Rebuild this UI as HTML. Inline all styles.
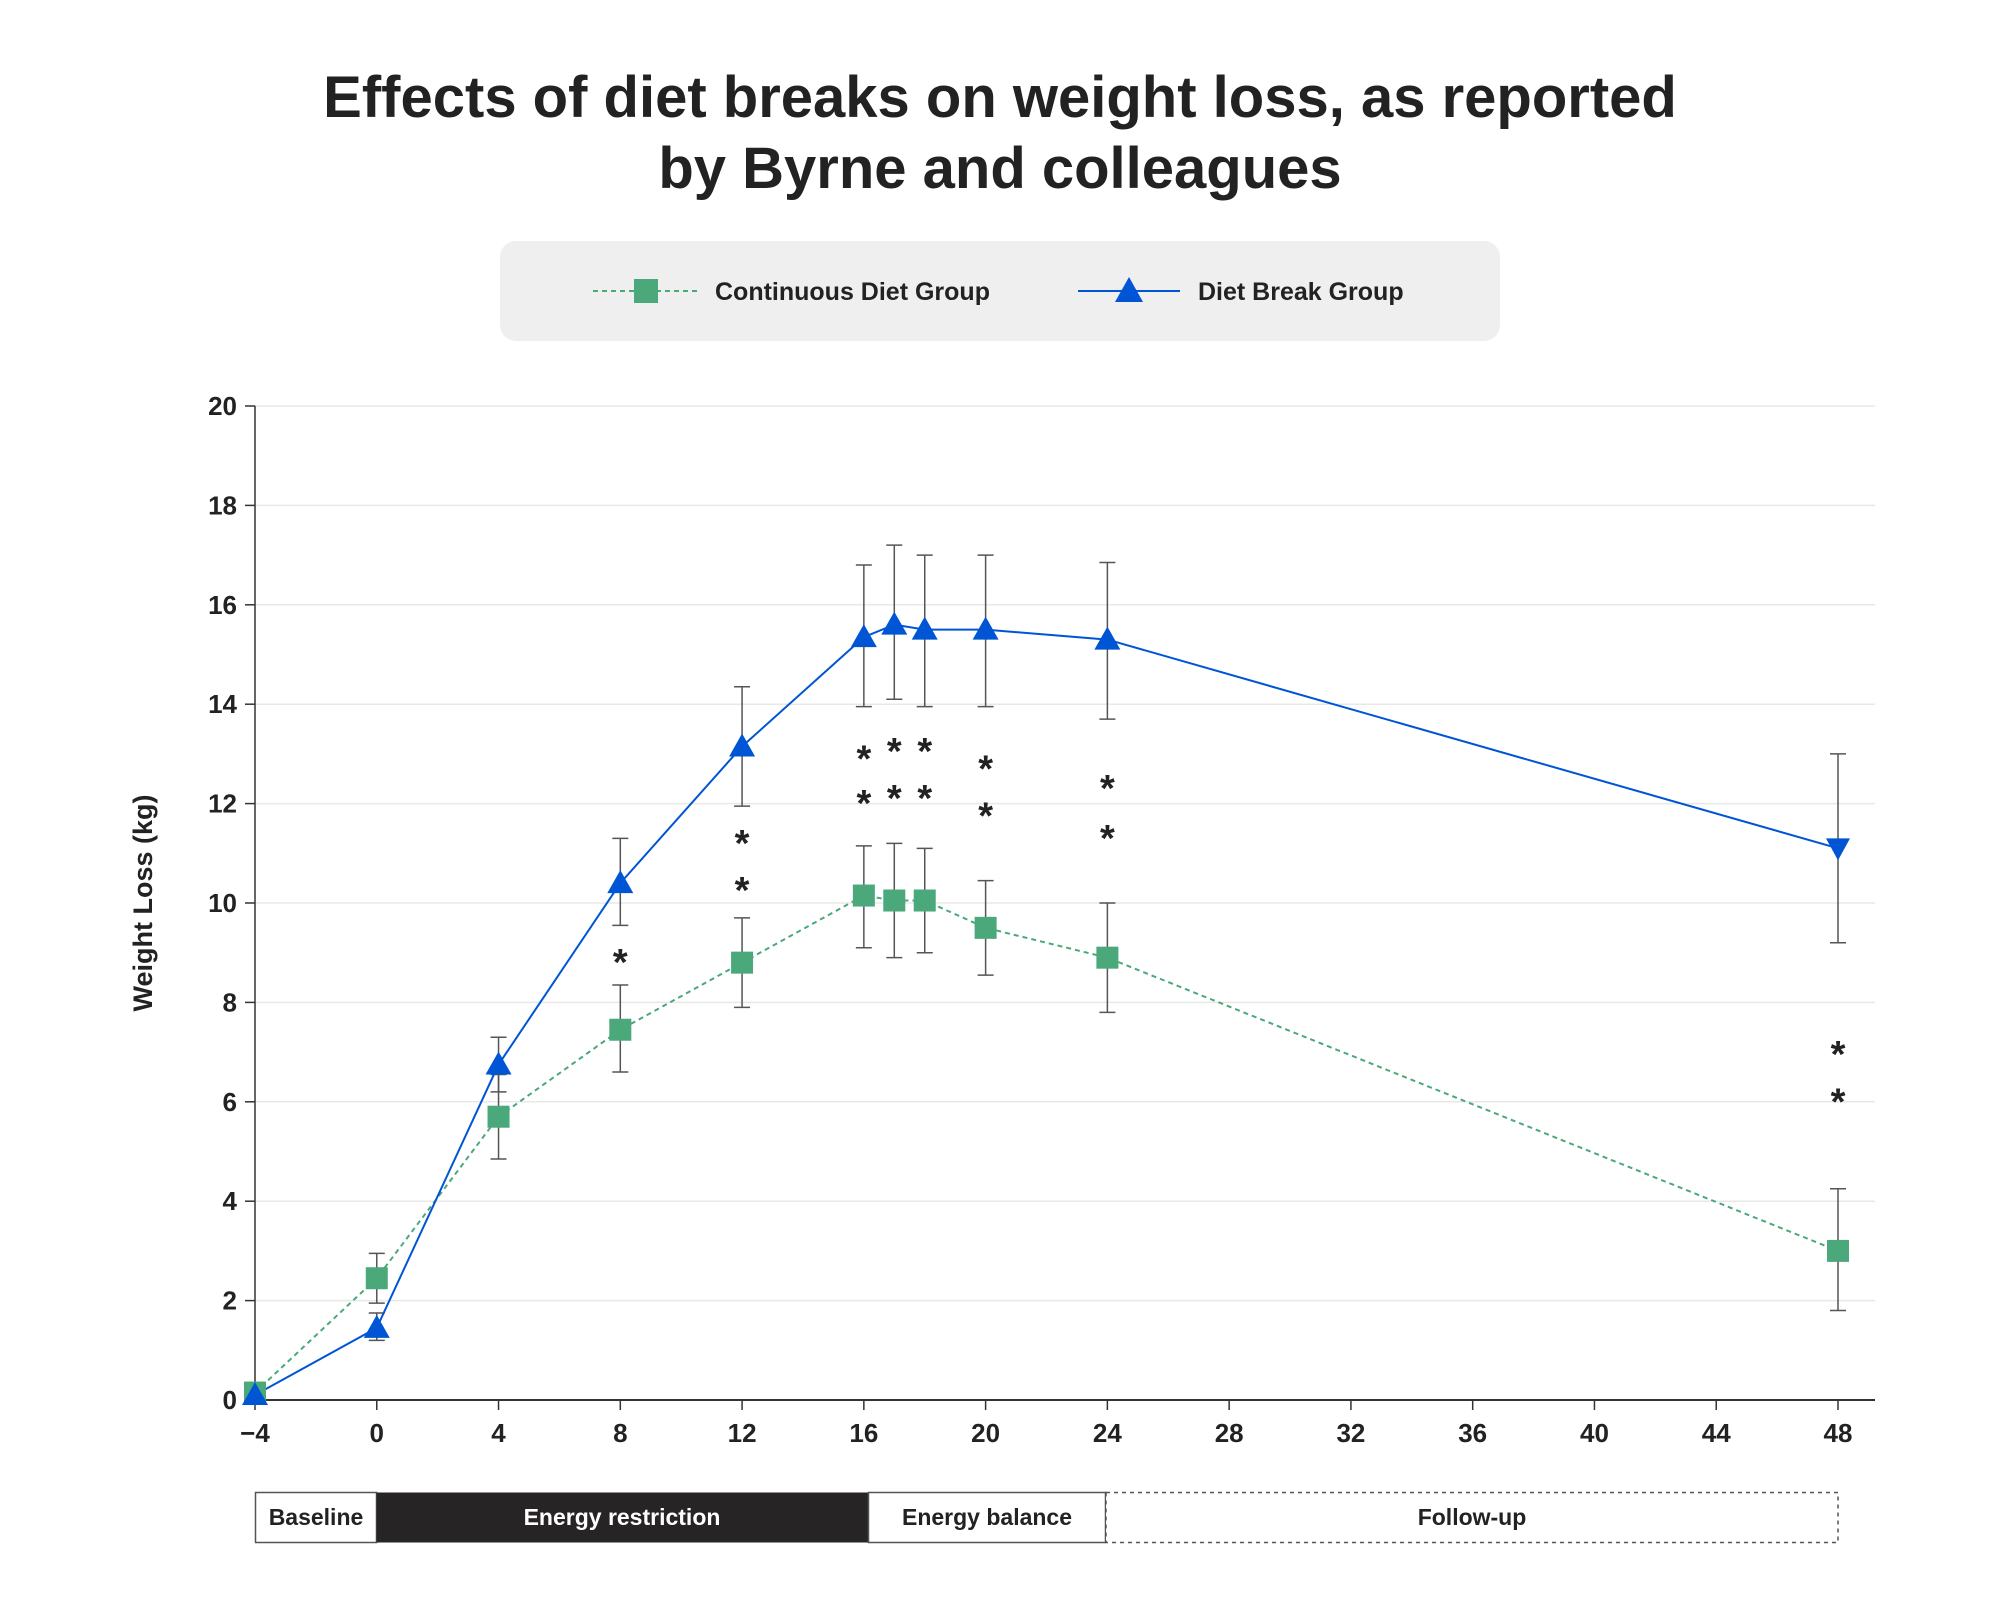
<!DOCTYPE html>
<html><head><meta charset="utf-8"><style>
body{margin:0;background:#fff;font-family:"Liberation Sans",sans-serif}
svg{display:block}
</style></head><body>
<svg id="chart" width="2000" height="1616" viewBox="0 0 2000 1616" xmlns="http://www.w3.org/2000/svg">
<text x="1000" y="117" text-anchor="middle" font-size="58" font-weight="bold" fill="#222">Effects of diet breaks on weight loss, as reported</text>
<text x="1000" y="188" text-anchor="middle" font-size="58" font-weight="bold" fill="#222">by Byrne and colleagues</text>
<g>
<rect x="500" y="241" width="1000" height="100" rx="16" fill="#efefef"/>
<g>
<line x1="593" y1="291" x2="698" y2="291" stroke="#4aa87a" stroke-width="2" stroke-dasharray="5,4"/>
<rect x="634" y="279" width="24" height="24" fill="#4aa87a"/>
<text x="715" y="300" font-size="25" font-weight="bold" fill="#222">Continuous Diet Group</text>
</g>
<g>
<line x1="1078" y1="291" x2="1180" y2="291" stroke="#0055d4" stroke-width="2"/>
<polygon points="1129,277 1143,302 1115,302" fill="#0055d4"/>
<text x="1198" y="300" font-size="25" font-weight="bold" fill="#222">Diet Break Group</text>
</g>
</g>
<g id="plot"></g>
<g font-size="23" font-weight="bold" text-anchor="middle">
<rect x="255.5" y="1492.5" width="121" height="50" fill="#fff" stroke="#555" stroke-width="1.5"/>
<text x="316" y="1525" fill="#222">Baseline</text>
<rect x="376.5" y="1492.5" width="492" height="50" fill="#262425"/>
<text x="622" y="1525" fill="#fff">Energy restriction</text>
<rect x="868.5" y="1492.5" width="237" height="50" fill="#fff" stroke="#555" stroke-width="1.5"/>
<text x="987" y="1525" fill="#222">Energy balance</text>
<rect x="1106" y="1492.5" width="732" height="50" fill="#fff" stroke="#555" stroke-width="1.5" stroke-dasharray="4,4"/>
<text x="1472" y="1525" fill="#222">Follow-up</text>
</g>
</svg>
<script>
const weeks=[-4,0,4,8,12,16,17,18,20,24,48];
const contVals=[0.15,2.45,5.7,7.45,8.8,10.15,10.05,10.05,9.5,8.9,3.0];
const contLow=[null,1.95,4.85,6.6,7.9,9.1,8.9,9.0,8.55,7.8,1.8];
const contHigh=[null,2.95,6.55,8.35,9.7,11.15,11.2,11.1,10.45,10.0,4.25];
const breakVals=[0.1,1.45,6.75,10.4,13.15,15.35,15.6,15.5,15.5,15.3,11.1];
const breakLow=[null,1.2,6.2,9.55,11.95,13.95,14.1,13.95,13.95,13.7,9.2];
const breakHigh=[null,1.75,7.3,11.3,14.35,16.8,17.2,17.0,17.0,16.85,13.0];
const starWeeks=[8,12,12,16,16,17,17,18,18,20,20,24,24,48,48];
const starVals=[8.75,11.15,10.2,12.85,11.95,13.0,12.05,13.0,12.05,12.65,11.7,12.25,11.25,6.9,5.95];
const xTicks=[-4,0,4,8,12,16,20,24,28,32,36,40,44,48];
const yTicks=[0,2,4,6,8,10,12,14,16,18,20];

const NS="http://www.w3.org/2000/svg";
const g=document.getElementById('plot');
const X=w=>255+(w+4)*(1838-255)/52;
const Y=v=>1400-v*(1400-406)/20;
function el(tag,attrs,parent){const e=document.createElementNS(NS,tag);for(const k in attrs)e.setAttribute(k,attrs[k]);(parent||g).appendChild(e);return e;}

yTicks.forEach(t=>{
  const l=el('line',{x1:255,x2:1875,y1:Y(t),y2:Y(t),stroke:t===0?'#333':'#e8e8e8','stroke-width':t===0?2:1.5});
  
  
  el('line',{x1:245,x2:255,y1:Y(t),y2:Y(t),stroke:'#333','stroke-width':1.5});
  const tx=el('text',{x:237,y:Y(t)+9,'text-anchor':'end','font-size':26,'font-weight':'bold',fill:'#222'});
  tx.textContent=t;
  
  
});
const ax=el('line',{x1:255,x2:255,y1:406,y2:1400,stroke:'#333','stroke-width':1.5});


xTicks.forEach(t=>{
  el('line',{x1:X(t),x2:X(t),y1:1400,y2:1410,stroke:'#333','stroke-width':1.5});
  const tx=el('text',{x:X(t),y:1442,'text-anchor':'middle','font-size':26,'font-weight':'bold',fill:'#222'});
  tx.textContent=t<0?'\u2212'+(-t):t;
  
  
});
const yt=el('text',{x:0,y:0,transform:'translate(152,903) rotate(-90)','text-anchor':'middle','font-size':27,'font-weight':'bold',fill:'#222'});
yt.textContent='Weight Loss (kg)';



function errs(lo,hi){
  weeks.forEach((w,i)=>{
    if(lo[i]==null)return;
    const x=X(w);
    const e=el('path',{d:`M${x-8},${Y(hi[i])}H${x+8}M${x},${Y(hi[i])}V${Y(lo[i])}M${x-8},${Y(lo[i])}H${x+8}`,stroke:'#555','stroke-width':1.5,fill:'none'});
    
    
  });
}
errs(contLow,contHigh);errs(breakLow,breakHigh);

const cl=el('polyline',{points:weeks.map((w,i)=>X(w)+','+Y(contVals[i])).join(' '),fill:'none',stroke:'#4aa87a','stroke-width':2,'stroke-dasharray':'5,4'});


const bl=el('polyline',{points:weeks.map((w,i)=>X(w)+','+Y(breakVals[i])).join(' '),fill:'none',stroke:'#0055d4','stroke-width':2});



weeks.forEach((w,i)=>{
  const x=X(w),y=Y(contVals[i]);
  const r=el('rect',{x:x-11,y:y-11,width:22,height:22,fill:'#4aa87a'});
  
  
});
weeks.forEach((w,i)=>{
  const x=X(w),y=Y(breakVals[i]);
  const last=i===weeks.length-1;
  const pts=last?`${x-12},${y-10} ${x+12},${y-10} ${x},${y+12}`:`${x},${y-13} ${x+13},${y+10} ${x-13},${y+10}`;
  const p=el('polygon',{points:pts,fill:'#0055d4'});
  
  
});
starWeeks.forEach((w,i)=>{
  const t=el('text',{x:X(w),y:Y(starVals[i])+10,'text-anchor':'middle','font-size':38,'font-weight':'bold',fill:'#222'});
  t.textContent='*';
  
  
});
</script>
</body></html>
